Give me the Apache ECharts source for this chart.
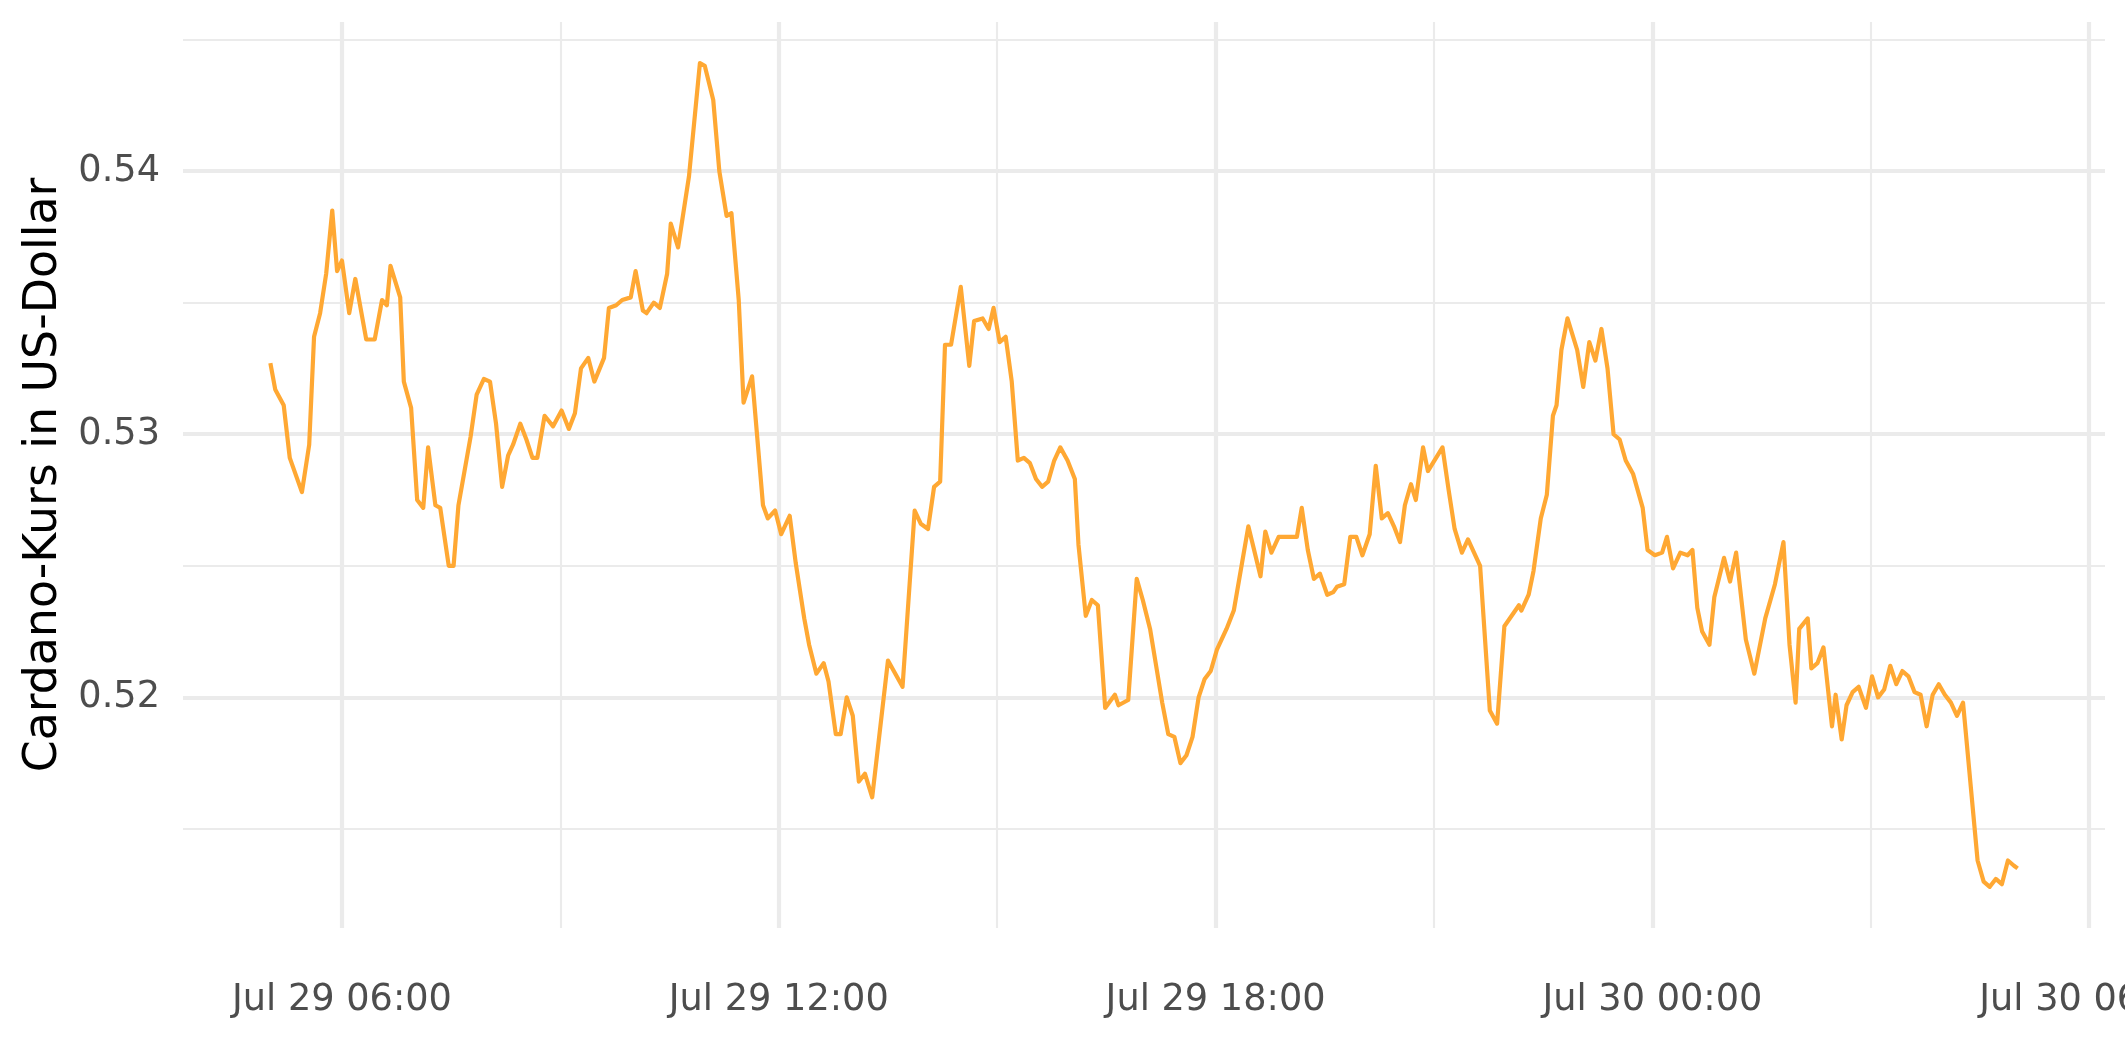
<!DOCTYPE html>
<html><head><meta charset="utf-8">
<script src="https://cdn.jsdelivr.net/npm/echarts@6/dist/echarts.min.js"></script>
<style>html,body{margin:0;padding:0;background:#fff}#c{width:2125px;height:1062px}</style>
</head><body><div id="c"></div>
<script>
const times = [
'07-29 05:01','07-29 05:05','07-29 05:12','07-29 05:17','07-29 05:27','07-29 05:33','07-29 05:37','07-29 05:42','07-29 05:47','07-29 05:52',
'07-29 05:56','07-29 06:00','07-29 06:06','07-29 06:11','07-29 06:20','07-29 06:27','07-29 06:33','07-29 06:37','07-29 06:40','07-29 06:48',
'07-29 06:51','07-29 06:57','07-29 07:02','07-29 07:07','07-29 07:11','07-29 07:17','07-29 07:21','07-29 07:28','07-29 07:32','07-29 07:36',
'07-29 07:41','07-29 07:46','07-29 07:51','07-29 07:57','07-29 08:02','07-29 08:07','07-29 08:12','07-29 08:17','07-29 08:21','07-29 08:27',
'07-29 08:32','07-29 08:37','07-29 08:41','07-29 08:47','07-29 08:54','07-29 09:01','07-29 09:07','07-29 09:12','07-29 09:17','07-29 09:23',
'07-29 09:28','07-29 09:36','07-29 09:40','07-29 09:46','07-29 09:51','07-29 09:58','07-29 10:02','07-29 10:08','07-29 10:11','07-29 10:17',
'07-29 10:22','07-29 10:28','07-29 10:31','07-29 10:37','07-29 10:46','07-29 10:55','07-29 10:59','07-29 11:06','07-29 11:11','07-29 11:17',
'07-29 11:21','07-29 11:27','07-29 11:31','07-29 11:38','07-29 11:47','07-29 11:51','07-29 11:57','07-29 12:02','07-29 12:09','07-29 12:14',
'07-29 12:21','07-29 12:25','07-29 12:31','07-29 12:37','07-29 12:41','07-29 12:47','07-29 12:51','07-29 12:56','07-29 13:01','07-29 13:06',
'07-29 13:11','07-29 13:17','07-29 13:30','07-29 13:42','07-29 13:52','07-29 13:57','07-29 14:03','07-29 14:08','07-29 14:13','07-29 14:17',
'07-29 14:22','07-29 14:30','07-29 14:37','07-29 14:41','07-29 14:48','07-29 14:53','07-29 14:57','07-29 15:02','07-29 15:07','07-29 15:12',
'07-29 15:17','07-29 15:22','07-29 15:27','07-29 15:32','07-29 15:37','07-29 15:42','07-29 15:47','07-29 15:52','07-29 15:58','07-29 16:04',
'07-29 16:07','07-29 16:13','07-29 16:18','07-29 16:23','07-29 16:29','07-29 16:37','07-29 16:40','07-29 16:48','07-29 16:55','07-29 17:00',
'07-29 17:06','07-29 17:11','07-29 17:16','07-29 17:21','07-29 17:26','07-29 17:31','07-29 17:36','07-29 17:41','07-29 17:46','07-29 17:51',
'07-29 17:56','07-29 18:01','07-29 18:09','07-29 18:15','07-29 18:27','07-29 18:37','07-29 18:41','07-29 18:46','07-29 18:52','07-29 18:57',
'07-29 19:01','07-29 19:07','07-29 19:11','07-29 19:16','07-29 19:21','07-29 19:26','07-29 19:32','07-29 19:37','07-29 19:40','07-29 19:46',
'07-29 19:51','07-29 19:56','07-29 20:01','07-29 20:07','07-29 20:12','07-29 20:17','07-29 20:22','07-29 20:27','07-29 20:32','07-29 20:36',
'07-29 20:41','07-29 20:45','07-29 20:51','07-29 20:55','07-29 21:07','07-29 21:12','07-29 21:17','07-29 21:23','07-29 21:28','07-29 21:33',
'07-29 21:38','07-29 21:46','07-29 21:52','07-29 21:58','07-29 22:04','07-29 22:10','07-29 22:12','07-29 22:18','07-29 22:22','07-29 22:28',
'07-29 22:33','07-29 22:38','07-29 22:41','07-29 22:45','07-29 22:50','07-29 22:58','07-29 23:03','07-29 23:08','07-29 23:13','07-29 23:18',
'07-29 23:23','07-29 23:28','07-29 23:33','07-29 23:38','07-29 23:44','07-29 23:52','07-29 23:56','07-30 00:02','07-30 00:08','07-30 00:12',
'07-30 00:17','07-30 00:23','07-30 00:29','07-30 00:33','07-30 00:37','07-30 00:41','07-30 00:47','07-30 00:51','07-30 00:59','07-30 01:04',
'07-30 01:09','07-30 01:17','07-30 01:24','07-30 01:33','07-30 01:41','07-30 01:48','07-30 01:53','07-30 01:58','07-30 02:01','07-30 02:08',
'07-30 02:11','07-30 02:16','07-30 02:21','07-30 02:28','07-30 02:31','07-30 02:36','07-30 02:40','07-30 02:45','07-30 02:50','07-30 02:56',
'07-30 03:01','07-30 03:06','07-30 03:11','07-30 03:16','07-30 03:21','07-30 03:26','07-30 03:31','07-30 03:36','07-30 03:41','07-30 03:46',
'07-30 03:51','07-30 03:56','07-30 04:01','07-30 04:06','07-30 04:11','07-30 04:16','07-30 04:28','07-30 04:33','07-30 04:38','07-30 04:43',
'07-30 04:48','07-30 04:53','07-30 04:58','07-30 05:01'
];
const prices = [
0.5327,0.5317,0.5311,0.5291,0.5278,0.5296,0.5337,0.5346,0.5361,0.5385,
0.5362,0.5366,0.5346,0.5359,0.5336,0.5336,0.5351,0.5349,0.5364,0.5352,
0.5320,0.5310,0.5275,0.5272,0.5295,0.5273,0.5272,0.5250,0.5250,0.5273,
0.5286,0.5299,0.5315,0.5321,0.5320,0.5304,0.5280,0.5292,0.5296,0.5304,
0.5298,0.5291,0.5291,0.5307,0.5303,0.5309,0.5302,0.5308,0.5325,0.5329,
0.5320,0.5329,0.5348,0.5349,0.5351,0.5352,0.5362,0.5347,0.5346,0.5350,
0.5348,0.5361,0.5380,0.5371,0.5398,0.5441,0.5440,0.5427,0.5400,0.5383,
0.5384,0.5351,0.5312,0.5322,0.5273,0.5268,0.5271,0.5262,0.5269,0.5251,
0.5230,0.5220,0.5209,0.5213,0.5206,0.5186,0.5186,0.5200,0.5193,0.5168,
0.5171,0.5162,0.5214,0.5204,0.5271,0.5266,0.5264,0.5280,0.5282,0.5334,
0.5334,0.5356,0.5326,0.5343,0.5344,0.5340,0.5348,0.5335,0.5337,0.5320,
0.5290,0.5291,0.5289,0.5283,0.5280,0.5282,0.5290,0.5295,0.5290,0.5283,
0.5258,0.5231,0.5237,0.5235,0.5196,0.5201,0.5197,0.5199,0.5245,0.5237,
0.5226,0.5212,0.5198,0.5186,0.5185,0.5175,0.5178,0.5185,0.5200,0.5207,
0.5210,0.5218,0.5226,0.5233,0.5265,0.5246,0.5263,0.5255,0.5261,0.5261,
0.5261,0.5261,0.5272,0.5256,0.5245,0.5247,0.5239,0.5240,0.5242,0.5243,
0.5261,0.5261,0.5254,0.5262,0.5288,0.5268,0.5270,0.5265,0.5259,0.5273,
0.5281,0.5275,0.5295,0.5286,0.5295,0.5279,0.5264,0.5255,0.5260,0.5255,
0.5250,0.5195,0.5190,0.5227,0.5231,0.5235,0.5233,0.5239,0.5248,0.5268,
0.5277,0.5307,0.5311,0.5332,0.5344,0.5332,0.5318,0.5335,0.5328,0.5340,
0.5325,0.5300,0.5298,0.5290,0.5285,0.5272,0.5256,0.5254,0.5255,0.5261,
0.5249,0.5255,0.5254,0.5256,0.5234,0.5225,0.5220,0.5238,0.5253,0.5244,
0.5255,0.5222,0.5209,0.5230,0.5243,0.5259,0.5220,0.5198,0.5226,0.5230,
0.5211,0.5213,0.5219,0.5189,0.5201,0.5184,0.5197,0.5202,0.5204,0.5196,
0.5208,0.5200,0.5203,0.5212,0.5205,0.5210,0.5208,0.5202,0.5201,0.5189,
0.5201,0.5205,0.5201,0.5198,0.5193,0.5198,0.5138,0.5130,0.5128,0.5131,
0.5129,0.5138,0.5136,0.5135
];
const xTickHours = [6, 12, 18, 24, 30];
const xMinorHours = [3, 9, 15, 21, 27];
const xTickLabels = ['Jul 29 06:00', 'Jul 29 12:00', 'Jul 29 18:00', 'Jul 30 00:00', 'Jul 30 06:00'];
const yTicks = [0.52, 0.53, 0.54];
const yMinor = [0.515, 0.525, 0.535, 0.545];
const yTickLabels = ['0.52', '0.53', '0.54'];

function toHours(s) {
  const day = +s.slice(3, 5), h = +s.slice(6, 8), m = +s.slice(9, 11);
  return (day - 29) * 24 + h + m / 60;
}
const data = times.map((t, i) => [toHours(t), prices[i]]);

// ggplot-like 5% expansion
const xs = data.map(d => d[0]), ys = prices;
const x0 = Math.min(...xs), x1 = Math.max(...xs);
const y0 = Math.min(...ys), y1 = Math.max(...ys);
const X_MIN = x0 - 0.05 * (x1 - x0), X_MAX = x1 + 0.05 * (x1 - x0);
const Y_MIN = y0 - 0.05 * (y1 - y0), Y_MAX = y1 + 0.05 * (y1 - y0);

const GRID = '#EBEBEB';
const FONT = 'DejaVu Sans';
const MAJ = 4.2, MIN = 2.1;

function xLabel(v) {
  const i = xTickHours.findIndex(h => Math.abs(v - h) < 1e-6);
  return i >= 0 ? xTickLabels[i] : '';
}
function yLabel(v) {
  const i = yTicks.findIndex(h => Math.abs(v - h) < 1e-9);
  return i >= 0 ? yTickLabels[i] : '';
}

const chart = echarts.init(document.getElementById('c'), null, {renderer: 'canvas'});
chart.setOption({
  animation: false,
  backgroundColor: '#fff',
  grid: {left: 183, right: 20, top: 22, bottom: 134, containLabel: false, outerBoundsMode: 'none'},
  xAxis: [
    {type: 'value', min: X_MIN, max: X_MAX, position: 'bottom',
     axisLine: {show: false}, axisTick: {show: false, customValues: xTickHours},
     axisLabel: {customValues: xTickHours, formatter: xLabel, fontFamily: FONT, fontSize: 36.7, color: '#4D4D4D', margin: 54, hideOverlap: false},
     splitLine: {show: true, lineStyle: {color: GRID, width: MAJ}}},
    {type: 'value', min: X_MIN, max: X_MAX, position: 'top',
     axisLine: {show: false}, axisTick: {show: false, customValues: xMinorHours}, axisLabel: {show: false, customValues: xMinorHours},
     splitLine: {show: true, lineStyle: {color: GRID, width: MIN}}}
  ],
  yAxis: [
    {type: 'value', min: Y_MIN, max: Y_MAX, position: 'left',
     name: 'Cardano-Kurs in US-Dollar', nameLocation: 'middle', nameGap: 112, nameRotate: 90,
     nameTextStyle: {fontFamily: FONT, fontSize: 45.8, color: '#000'},
     axisLine: {show: false}, axisTick: {show: false, customValues: yTicks},
     axisLabel: {customValues: yTicks, formatter: yLabel, fontFamily: FONT, fontSize: 36.7, color: '#4D4D4D', margin: 23},
     splitLine: {show: true, lineStyle: {color: GRID, width: MAJ}}},
    {type: 'value', min: Y_MIN, max: Y_MAX, position: 'right',
     axisLine: {show: false}, axisTick: {show: false, customValues: yMinor}, axisLabel: {show: false, customValues: yMinor},
     splitLine: {show: true, lineStyle: {color: GRID, width: MIN}}}
  ],
  series: [{
    type: 'line', xAxisIndex: 0, yAxisIndex: 0, data: data,
    showSymbol: false, symbol: 'none',
    lineStyle: {color: '#FFA833', width: 4.2, join: 'round', cap: 'butt'},
    z: 3
  }]
});
</script>
</body></html>
